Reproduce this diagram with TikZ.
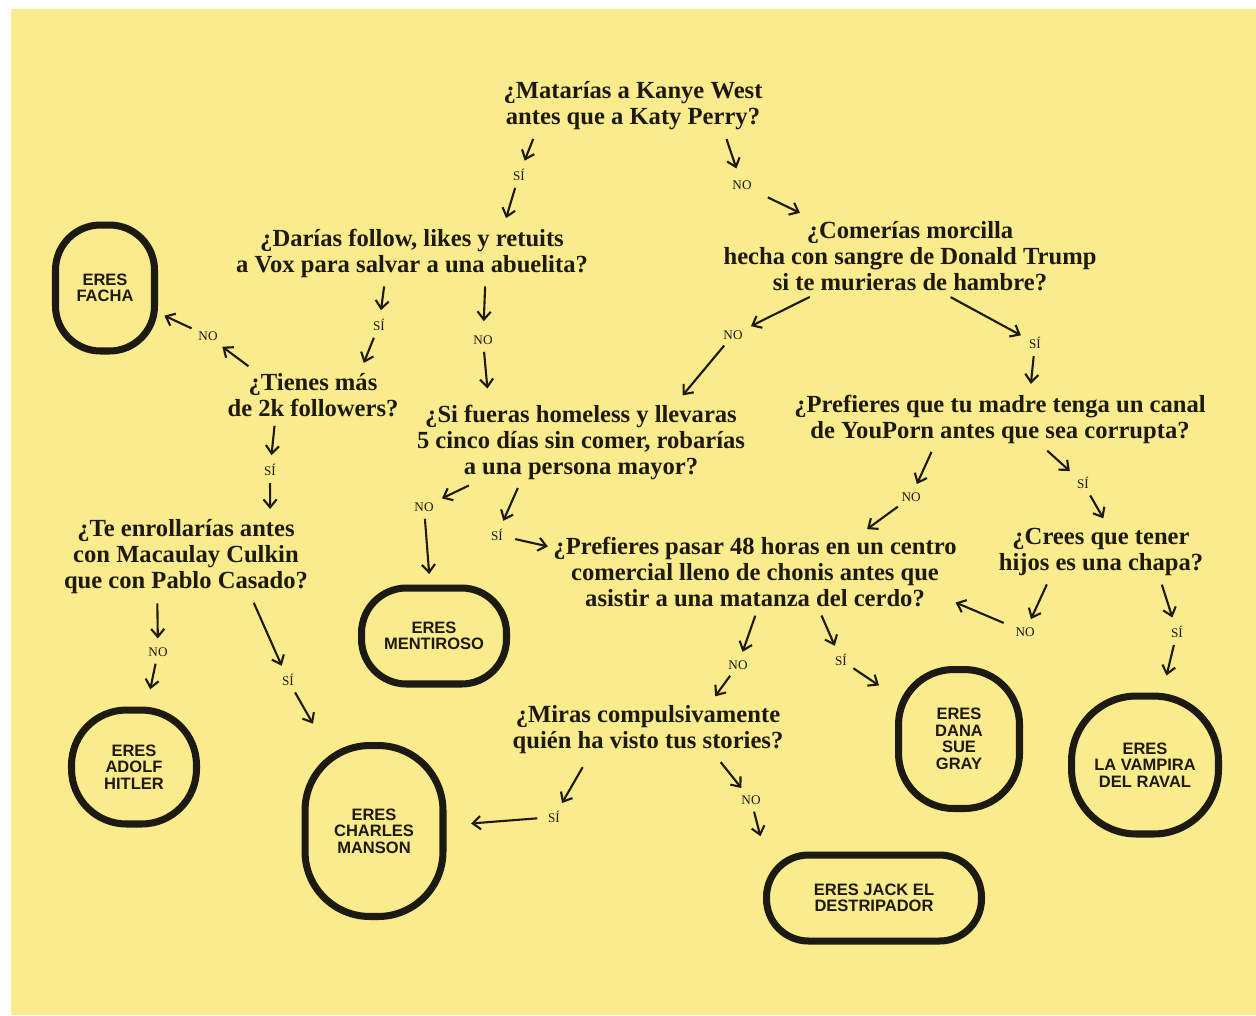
\documentclass[tikz,border=0pt]{standalone}
\usepackage{fontspec}
\setmainfont{Liberation Serif}
\newfontfamily\boxfont{Liberation Sans}
\usepackage{tikz}
\usetikzlibrary{arrows.meta}
\definecolor{paper}{RGB}{250,235,140}
\definecolor{ink}{RGB}{28,26,18}

\begin{document}
\begin{tikzpicture}[x=0.02cm, y=-0.02cm,
			>={Straight Barb[length=4.5pt, width=7.5pt]},
			question/.style={font=\bfseries\fontsize{14}{14.8}\selectfont, align=center, inner sep=2pt, text=ink},
			answer/.style={font=\fontsize{7.5}{8}\selectfont, inner sep=1pt, text=ink},
			result/.style={draw=ink, line width=4pt, align=center, text=ink,
				font=\boxfont\bfseries\fontsize{9.4}{9.4}\selectfont},
			link/.style={->, ink, line width=1.2pt, shorten <=3pt, shorten >=4pt}]
			\useasboundingbox (0,0) rectangle (1256,1015);
			\fill[paper] (11,9) rectangle (1256,1015);

			\node at (633,106) (q1) [question] {¿Matarías a Kanye West\\antes que a Katy Perry?};
			\node at (412,253) (q2) [question] {¿Darías follow, likes y retuits\\a Vox para salvar a una abuelita?};
			\node at (910,256) (q3) [question] {¿Comerías morcilla\\hecha con sangre de Donald Trump\\si te murieras de hambre?};
			\node at (313,395) (q4) [question] {¿Tienes más\\de 2k followers?};
			\node at (186,557) (q5) [question] {¿Te enrollarías antes\\con Macaulay Culkin\\que con Pablo Casado?};
			\node at (581,442) (q6) [question] {¿Si fueras homeless y llevaras\\5 cinco días sin comer, robarías\\a una persona mayor?};
			\node at (1000,419) (q7) [question] {¿Prefieres que tu madre tenga un canal\\de YouPorn antes que sea corrupta?};
			\node at (755,572) (q8) [question] {¿Prefieres pasar 48 horas en un centro\\comercial lleno de chonis antes que\\asistir a una matanza del cerdo?};
			\node at (1101,552) (q9) [question] {¿Crees que tener\\hijos es una chapa?};
			\node at (648,730) (q10) [question] {¿Miras compulsivamente\\quién ha visto tus stories?};

			\node at (519,175) (a1) [answer] {SÍ};
			\node at (742,185) (b1) [answer] {NO};
			\node at (379,325) (a2) [answer] {SÍ};
			\node at (483,340) (b2) [answer] {NO};
			\node at (733,335) (a3) [answer] {NO};
			\node at (1035,343) (b3) [answer] {SÍ};
			\node at (208,336) (a4) [answer] {NO};
			\node at (270,470) (b4) [answer] {SÍ};
			\node at (158,652) (a5) [answer] {NO};
			\node at (288,680) (b5) [answer] {SÍ};
			\node at (424,507) (a6) [answer] {NO};
			\node at (497,535) (b6) [answer] {SÍ};
			\node at (911,497) (a7) [answer] {NO};
			\node at (1083,483) (b7) [answer] {SÍ};
			\node at (738,665) (a8) [answer] {NO};
			\node at (841,660) (b8) [answer] {SÍ};
			\node at (1025,632) (a9) [answer] {NO};
			\node at (1177,632) (b9) [answer] {SÍ};
			\node at (554,817) (a10) [answer] {SÍ};
			\node at (751,800) (b10) [answer] {NO};

			\node at (105,288) (facha) [result, minimum width=1.98cm, minimum height=2.52cm, rounded corners=0.9cm] {ERES\\FACHA};
			\node at (134,767) (hitler) [result, minimum width=2.5cm, minimum height=2.28cm, rounded corners=1.1cm] {ERES\\ADOLF\\HITLER};
			\node at (374,831) (manson) [result, minimum width=2.76cm, minimum height=3.42cm, rounded corners=1.3cm] {ERES\\CHARLES\\MANSON};
			\node at (434,636) (mentiroso) [result, minimum width=2.9cm, minimum height=1.92cm, rounded corners=0.9cm] {ERES\\MENTIROSO};
			\node at (959,739) (dana) [result, minimum width=2.42cm, minimum height=2.78cm, rounded corners=1.1cm] {ERES\\DANA\\SUE\\GRAY};
			\node at (1145,765) (vampira) [result, minimum width=2.94cm, minimum height=2.76cm, rounded corners=1.3cm] {ERES\\LA VAMPIRA\\DEL RAVAL};
			\node at (874,898) (jack) [result, minimum width=4.3cm, minimum height=1.72cm, rounded corners=0.84cm] {ERES JACK EL\\DESTRIPADOR};

			\draw[link] (q1.196) -- (a1);
			\draw[link] (a1) -- (q2.17);
			\draw[link, shorten >=6pt] (q1.343) -- (b1);
			\draw[link, shorten <=9pt, shorten >=6pt] (b1) -- (q3.159);
			\draw[link] (q2.226) -- (a2);
			\draw[link] (a2) -- (q4.28);
			\draw[link, shorten >=7pt] (q2.339) -- (b2);
			\draw[link, shorten >=7pt] (b2) -- (q6.156);
			\draw[link] (q3.202) -- (a3);
			\draw[link] (a3) -- (q6.23);
			\draw[link] (q3.313) -- (b3);
			\draw[link] (b3) -- (q7.43);
			\draw[link] (q4.157) -- (a4);
			\draw[link] (a4) -- (facha);
			\draw[link] (q4.214) -- (b4);
			\draw[link] (b4) -- (q5.26);
			\draw[link] (q5.235) -- (a5);
			\draw[link, shorten >=10pt] (a5) -- (hitler);
			\draw[link] (q5.328) -- (b5);
			\draw[link, shorten >=12pt] (b5) -- (manson);
			\draw[link] (q6.201) -- (a6);
			\draw[link, shorten >=6pt] (a6) -- (mentiroso);
			\draw[link] (q6.214) -- (b6);
			\draw[link, shorten <=6pt, shorten >=1pt] (b6) -- (q8.173);
			\draw[link] (q7.203) -- (a7);
			\draw[link] (a7) -- (q8.20);
			\draw[link] (q7.327) -- (b7);
			\draw[link] (b7) -- (q9.78);
			\draw[link] (q9.208) -- (a9);
			\draw[link, shorten <=6pt, shorten >=-3pt] (a9) -- (q8.351);
			\draw[link] (q9.335) -- (b9);
			\draw[link, shorten >=10pt] (b9) -- (vampira);
			\draw[link] (q8.273) -- (a8);
			\draw[link] (a8) -- (q10.24);
			\draw[link] (q8.329) -- (b8);
			\draw[link, shorten >=11pt] (b8) -- (dana);
			\draw[link, shorten <=6pt] (q10.205) -- (a10);
			\draw[link, shorten <=5pt, shorten >=14pt] (a10) -- (manson);
			\draw[link] (q10.338) -- (b10);
			\draw[link, shorten >=9pt] (b10) -- (jack.157);
		\end{tikzpicture}
\end{document}
